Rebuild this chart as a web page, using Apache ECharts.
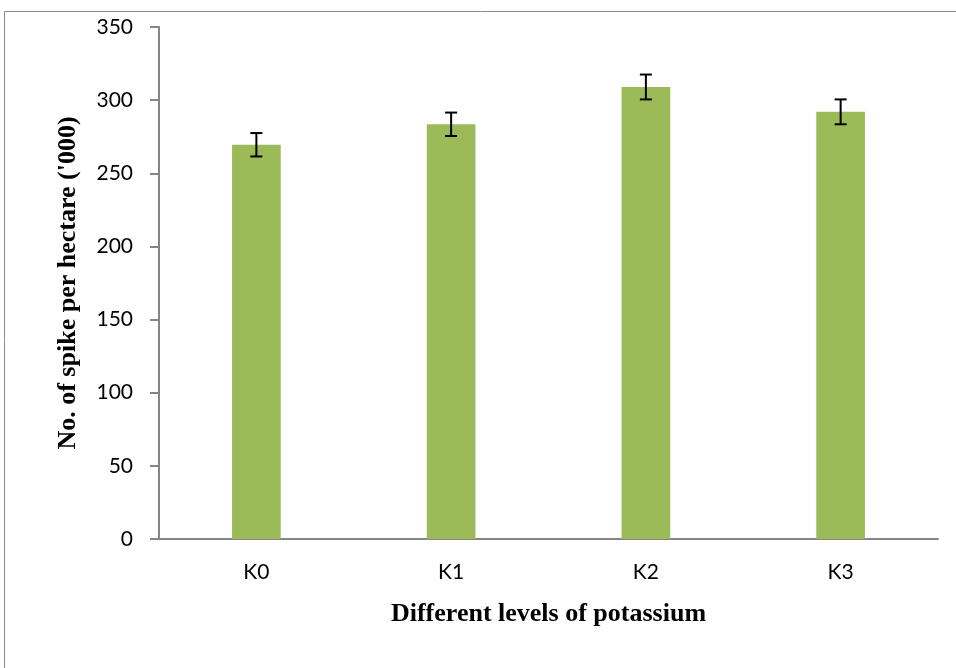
<!DOCTYPE html>
<html>
<head>
<meta charset="utf-8">
<script src="https://cdn.jsdelivr.net/npm/echarts@6/dist/echarts.min.js"></script>
<style>
html,body{margin:0;padding:0;background:#fff;}
#main{width:956px;height:668px;}
</style>
</head>
<body>
<div id="main"></div>
<script>
var categories = ['K0', 'K1', 'K2', 'K3'];
var spikeValues = [269.5, 283.5, 309, 292];
var errorValues = [8, 8, 8.5, 8.5];
var yTicks = [0, 50, 100, 150, 200, 250, 300, 350];

var errData = categories.map(function (c, i) {
  return [i, spikeValues[i] - errorValues[i], spikeValues[i] + errorValues[i]];
});

var chart = echarts.init(document.getElementById('main'));
chart.setOption({
  animation: false,
  backgroundColor: '#fff',
  graphic: [{
    type: 'rect',
    shape: { x: 4.5, y: 11.5, width: 1000, height: 1000 },
    style: { fill: 'none', stroke: '#8a8a8a', lineWidth: 1 },
    silent: true
  }],
  grid: { left: 159, right: 18, top: 27, bottom: 129, containLabel: false },
  xAxis: {
    type: 'category',
    data: categories,
    name: 'Different levels of potassium',
    nameLocation: 'middle',
    nameGap: 62,
    nameTextStyle: { fontFamily: 'Liberation Serif', fontWeight: 'bold', fontSize: 26, color: '#000' },
    axisLine: { lineStyle: { color: '#868686', width: 2 } },
    axisTick: { show: false },
    axisLabel: { fontFamily: 'Lato', fontSize: 21, color: '#000', margin: 23 }
  },
  yAxis: {
    type: 'value',
    min: yTicks[0],
    max: yTicks[yTicks.length - 1],
    interval: 50,
    name: "No. of spike per hectare ('000)",
    nameLocation: 'middle',
    nameGap: 78,
    nameTextStyle: { fontFamily: 'Liberation Serif', fontWeight: 'bold', fontSize: 26, color: '#000' },
    splitLine: { show: false },
    axisLine: { show: true, lineStyle: { color: '#868686', width: 2 } },
    axisTick: { show: true, inside: false, length: 9, lineStyle: { color: '#868686', width: 2 } },
    axisLabel: { fontFamily: 'Lato', fontSize: 21, color: '#000', margin: 26 }
  },
  series: [{
    type: 'bar',
    data: spikeValues,
    barWidth: '25%',
    itemStyle: { color: '#9BBB59' }
  }, {
    type: 'custom',
    data: errData,
    z: 10,
    renderItem: function (params, api) {
      var x = api.value(0);
      var lo = api.coord([x, api.value(1)]);
      var hi = api.coord([x, api.value(2)]);
      var hw = 6;
      var st = { stroke: '#000', lineWidth: 2 };
      return {
        type: 'group',
        children: [
          { type: 'line', shape: { x1: lo[0], y1: lo[1], x2: hi[0], y2: hi[1] }, style: st },
          { type: 'line', shape: { x1: lo[0] - hw, y1: lo[1], x2: lo[0] + hw, y2: lo[1] }, style: st },
          { type: 'line', shape: { x1: hi[0] - hw, y1: hi[1], x2: hi[0] + hw, y2: hi[1] }, style: st }
        ]
      };
    }
  }]
});
</script>
</body>
</html>
